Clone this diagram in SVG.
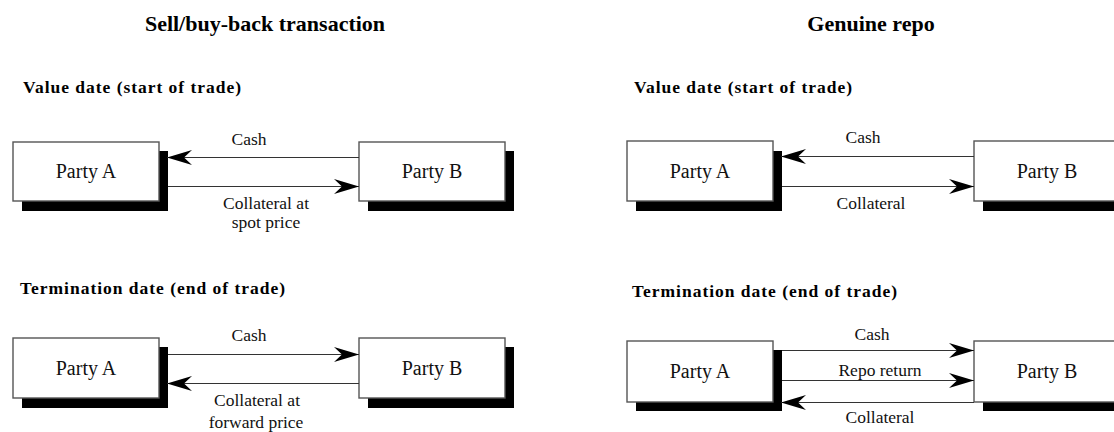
<svg xmlns="http://www.w3.org/2000/svg" width="1114" height="432" viewBox="0 0 1114 432">
  <style>
    .title { font-family: "Liberation Serif", "Times New Roman", serif; font-size: 22px; font-weight: bold; fill: #000; text-anchor: middle; }
    .head { font-family: "Liberation Serif", "Times New Roman", serif; font-size: 17.5px; font-weight: bold; fill: #000; }
    .party { font-family: "Liberation Serif", "Times New Roman", serif; font-size: 20px; fill: #111; text-anchor: middle; }
    .lbl { font-family: "Liberation Serif", "Times New Roman", serif; font-size: 17.5px; fill: #111; text-anchor: middle; }
    .box { fill: #fff; stroke: #555; stroke-width: 1.4; }
    .shadow { fill: #000; }
    .flow { stroke: #333; stroke-width: 1.2; fill: none; marker-end: url(#barb); }
  </style>
  <defs>
    <marker id="barb" markerUnits="userSpaceOnUse" markerWidth="30" markerHeight="20" viewBox="-26 -10 30 20" refX="0" refY="0" orient="auto">
      <path d="M0,0 L-25,-7.5 L-17,0 L-25,7.5 Z" fill="#000"/>
    </marker>
  </defs>

  <rect width="1114" height="432" fill="#fff"/>

  <!-- panel titles -->
  <text class="title" x="265" y="31">Sell/buy-back transaction</text>
  <text class="title" x="871" y="31">Genuine repo</text>

  <!-- section headings -->
  <text class="head" x="23" y="93" textLength="218" lengthAdjust="spacing">Value date (start of trade)</text>
  <text class="head" x="20" y="294" textLength="265" lengthAdjust="spacing">Termination date (end of trade)</text>
  <text class="head" x="634" y="93" textLength="218" lengthAdjust="spacing">Value date (start of trade)</text>
  <text class="head" x="632" y="297" textLength="265" lengthAdjust="spacing">Termination date (end of trade)</text>

  <!-- Sell/buy-back, value date -->
  <g id="sbb-value-partyA">
    <rect class="shadow" x="22" y="151" width="146" height="60"/>
    <rect class="box" x="13" y="142" width="146" height="59"/>
    <text class="party" x="86" y="178">Party A</text>
  </g>
  <g id="sbb-value-partyB">
    <rect class="shadow" x="368" y="151" width="146" height="60"/>
    <rect class="box" x="359" y="142" width="146" height="59"/>
    <text class="party" x="432" y="178">Party B</text>
  </g>

  <!-- Sell/buy-back, termination date -->
  <g id="sbb-term-partyA">
    <rect class="shadow" x="22" y="347" width="146" height="61"/>
    <rect class="box" x="13" y="338" width="146" height="60"/>
    <text class="party" x="86" y="375">Party A</text>
  </g>
  <g id="sbb-term-partyB">
    <rect class="shadow" x="368" y="347" width="146" height="61"/>
    <rect class="box" x="359" y="338" width="146" height="60"/>
    <text class="party" x="432" y="375">Party B</text>
  </g>

  <!-- Genuine repo, value date -->
  <g id="repo-value-partyA">
    <rect class="shadow" x="636" y="151" width="146" height="60"/>
    <rect class="box" x="627" y="141" width="146" height="60"/>
    <text class="party" x="700" y="178">Party A</text>
  </g>
  <g id="repo-value-partyB">
    <rect class="shadow" x="983" y="151" width="146" height="60"/>
    <rect class="box" x="974" y="141" width="146" height="60"/>
    <text class="party" x="1047" y="178">Party B</text>
  </g>

  <!-- Genuine repo, termination date -->
  <g id="repo-term-partyA">
    <rect class="shadow" x="636" y="350" width="146" height="61"/>
    <rect class="box" x="627" y="341" width="146" height="61"/>
    <text class="party" x="700" y="378">Party A</text>
  </g>
  <g id="repo-term-partyB">
    <rect class="shadow" x="983" y="350" width="146" height="61"/>
    <rect class="box" x="974" y="341" width="146" height="61"/>
    <text class="party" x="1047" y="378">Party B</text>
  </g>

  <!-- flows between the parties -->
  <g id="connectors">
    <line class="flow" x1="359" y1="157.5" x2="167" y2="157.5"/>
    <line class="flow" x1="168" y1="186.5" x2="359" y2="186.5"/>
    <line class="flow" x1="168" y1="354.5" x2="359" y2="354.5"/>
    <line class="flow" x1="359" y1="383.5" x2="167" y2="383.5"/>

    <line class="flow" x1="974" y1="156.5" x2="781" y2="156.5"/>
    <line class="flow" x1="782" y1="186.5" x2="974" y2="186.5"/>
    <line class="flow" x1="782" y1="350.5" x2="974" y2="350.5"/>
    <line class="flow" x1="782" y1="380.5" x2="974" y2="380.5"/>
    <line class="flow" x1="974" y1="402.5" x2="781" y2="402.5"/>

    <text class="lbl" x="249" y="145">Cash</text>
    <text class="lbl" x="266" y="209">Collateral at</text>
    <text class="lbl" x="266" y="228">spot price</text>
    <text class="lbl" x="249" y="341">Cash</text>
    <text class="lbl" x="257" y="406">Collateral at</text>
    <text class="lbl" x="256" y="428">forward price</text>

    <text class="lbl" x="863" y="143">Cash</text>
    <text class="lbl" x="871" y="209">Collateral</text>
    <text class="lbl" x="872" y="340">Cash</text>
    <text class="lbl" x="880" y="376">Repo return</text>
    <text class="lbl" x="880" y="423">Collateral</text>
  </g>
</svg>
